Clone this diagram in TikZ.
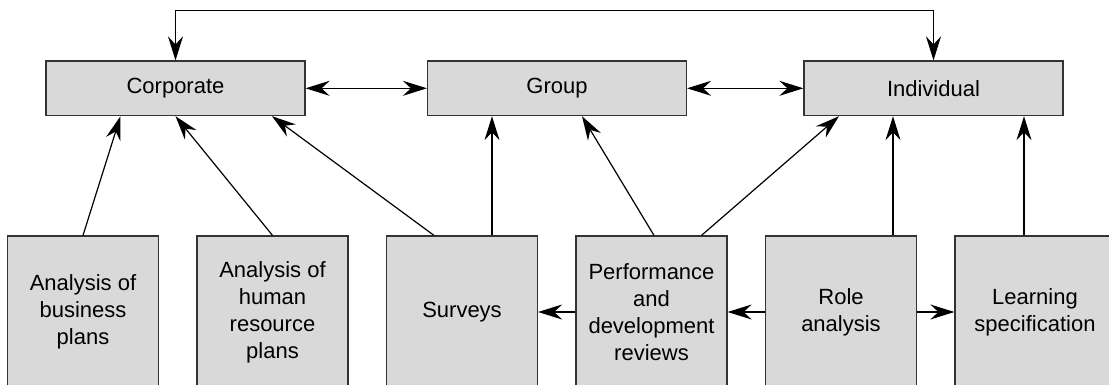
\documentclass[tikz,border=0pt]{standalone}
\usepackage{fontspec}
\setmainfont{Liberation Sans}
\usetikzlibrary{arrows.meta,calc}
\definecolor{boxgray}{HTML}{D9D9D9}
\definecolor{edgegray}{HTML}{333333}
\begin{document}
\begin{tikzpicture}[x=0.5pt,y=-0.5pt,
    level/.style={draw=edgegray,fill=boxgray,line width=0.6pt,minimum width=129.5pt,
      minimum height=27.3pt,inner sep=0pt,font=\fontsize{11}{13.5}\selectfont},
    source/.style={draw=edgegray,fill=boxgray,line width=0.6pt,minimum width=75.5pt,
      minimum height=76pt,inner sep=0pt,align=center,font=\fontsize{11}{13.5}\selectfont},
    tip/.tip={Stealth[length=12pt,width=7.5pt,inset=4pt]},
    link/.style={line width=0.6pt,-tip},
    both/.style={line width=0.6pt,tip-tip}]
      \useasboundingbox (0,0) rectangle (1109,385);
      \clip (0,0) rectangle (1109,385);
      % levels
      \node [level] (corp) at (175.5,88.3) {Corporate};
      \node [level] (group) at (557,88.3) {Group};
      \node [level] (indiv) at (933.5,88.3) {Individual};
      % sources
      \node [source] (business) at (83,312) {Analysis of\\business\\plans};
      \node [source] (hr) at (272.5,312) {Analysis of\\human\\resource\\plans};
      \node [source] (surveys) at (462,312) {Surveys};
      \node [source] (reviews) at (651.5,312) {Performance\\and\\development\\reviews};
      \node [source] (role) at (841,312) {Role\\analysis};
      \node [source, minimum width=80pt] (learning) at (1035,312) {Learning\\specification};
      \coordinate (loop) at (0,10.7);
      \draw [both] (corp.east) -- (group.west);
      \draw [both] (group.east) -- (indiv.west);
      \draw [both] (corp.north) -- (corp.north |- loop) -| (indiv.north);
      \draw [link] (business.north) -- ($(corp.south)+(-55,0)$);
      \draw [link] (hr.north) -- (corp.south);
      \draw [link] ($(surveys.north)+(-28,0)$) -- ($(corp.south)+(96.5,0)$);
      \draw [link] ($(surveys.north)+(30,0)$) -- ($(group.south)+(-65,0)$);
      \draw [link] ($(reviews.north)+(2.5,0)$) -- ($(group.south)+(25,0)$);
      \draw [link] ($(reviews.north)+(50,0)$) -- ($(indiv.south)+(-94.5,0)$);
      \draw [link] ($(role.north)+(52,0)$) -- ($(indiv.south)+(-40.5,0)$);
      \draw [link] ($(learning.north)+(-11,0)$) -- ($(indiv.south)+(90.5,0)$);
      \draw [link] (reviews.west) -- (surveys.east);
      \draw [link] (role.west) -- (reviews.east);
      \draw [link] (role.east) -- (learning.west);
    \end{tikzpicture}
\end{document}
